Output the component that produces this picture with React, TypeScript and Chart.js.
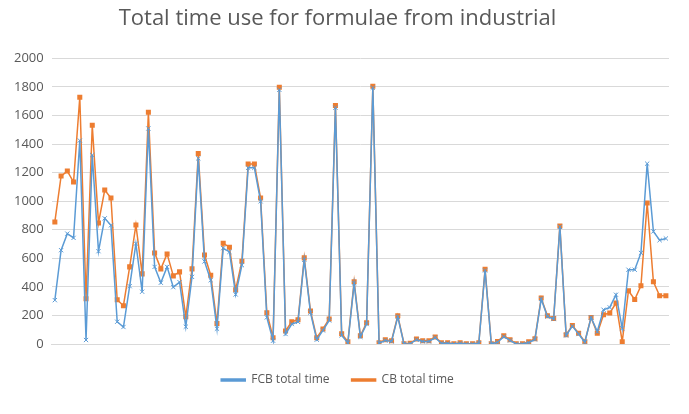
import React, { useEffect, useRef } from 'react';
import Chart from 'chart.js/auto';

const cbTime = [
  855, 1176, 1211, 1134, 1728, 317, 1532, 848, 1078, 1022,
  310, 268, 540, 834, 491, 1623, 638, 526, 631, 477,
  505, 191, 526, 1334, 624, 482, 144, 706, 678, 380,
  580, 1260, 1260, 1022, 219, 44, 1798, 91, 156, 170,
  603, 231, 44, 105, 175, 1670, 72, 16, 436, 58,
  149, 1805, 9, 30, 23, 198, 2, 5, 35, 23,
  23, 49, 9, 9, 2, 9, 2, 2, 9, 524,
  2, 18, 58, 30, 2, 2, 16, 37, 322, 198,
  179, 827, 65, 130, 75, 16, 186, 75, 205, 217,
  287, 16, 373, 312, 408, 988, 436, 338, 338,
];

const fcbTime = [
  307, 657, 773, 743, 1425, 28, 1323, 650, 880, 831,
  156, 119, 405, 703, 366, 1509, 540, 429, 540, 398,
  433, 121, 470, 1300, 578, 447, 107, 671, 645, 347,
  552, 1234, 1234, 999, 186, 23, 1780, 70, 140, 155,
  590, 220, 30, 95, 165, 1655, 60, 8, 425, 50,
  140, 1795, 5, 25, 18, 190, 0, 2, 30, 18,
  18, 45, 5, 5, 0, 5, 0, 0, 5, 515,
  0, 12, 52, 25, 0, 0, 10, 32, 315, 192,
  175, 820, 60, 125, 70, 12, 186, 87, 240, 256,
  345, 110, 520, 520, 638, 1263, 788, 727, 739,
];

const categories = cbTime.map((_, i) => String(i + 1));

const App: React.FC = () => {
  const chartRef = useRef<HTMLCanvasElement | null>(null);
  const chartInstance = useRef<Chart | null>(null);

  useEffect(() => {
    document.body.style.margin = '0';
    if (chartRef.current) {
      if (chartInstance.current) chartInstance.current.destroy();
      chartInstance.current = new Chart(chartRef.current, {
        type: 'line',
        data: {
          labels: categories,
          datasets: [
            {
              label: 'FCB total time',
              data: fcbTime,
              borderColor: '#5B9BD5',
              backgroundColor: '#5B9BD5',
              borderWidth: 1.5,
              pointStyle: 'crossRot',
              pointRadius: 3,
              pointBorderWidth: 1,
              tension: 0,
            },
            {
              label: 'CB total time',
              data: cbTime,
              borderColor: '#ED7D31',
              backgroundColor: '#ED7D31',
              borderWidth: 1.5,
              pointStyle: 'rect',
              pointRadius: 2.5,
              tension: 0,
            },
          ],
        },
        options: {
          responsive: false,
          animation: false,
          layout: { padding: { left: 6, right: 20, top: 0, bottom: 18 } },
          plugins: {
            title: {
              display: true,
              text: 'Total time use for formulae from industrial',
              color: '#595959',
              font: { family: 'Open Sans', size: 22, weight: 'normal' },
              padding: { top: 6, bottom: 26 },
            },
            legend: {
              position: 'bottom',
              labels: {
                color: '#595959',
                font: { family: 'Open Sans', size: 12 },
                boxWidth: 24,
                boxHeight: 2,
                padding: 22,
              },
            },
            tooltip: { enabled: false },
          },
          scales: {
            x: {
              grid: { display: false },
              ticks: { display: false },
              border: { color: '#D9D9D9' },
              offset: true,
            },
            y: {
              min: 0,
              max: 2000,
              ticks: {
                stepSize: 200,
                color: '#595959',
                font: { family: 'Open Sans', size: 13 },
                padding: 8,
                callback: (v) => String(v),
              },
              grid: { color: '#D9D9D9', drawTicks: false },
              border: { display: false },
            },
          },
        },
      });
    }
    return () => {
      if (chartInstance.current) {
        chartInstance.current.destroy();
        chartInstance.current = null;
      }
    };
  }, []);

  return <canvas ref={chartRef} width={689} height={414} style={{ display: 'block' }} />;
};

export default App;
